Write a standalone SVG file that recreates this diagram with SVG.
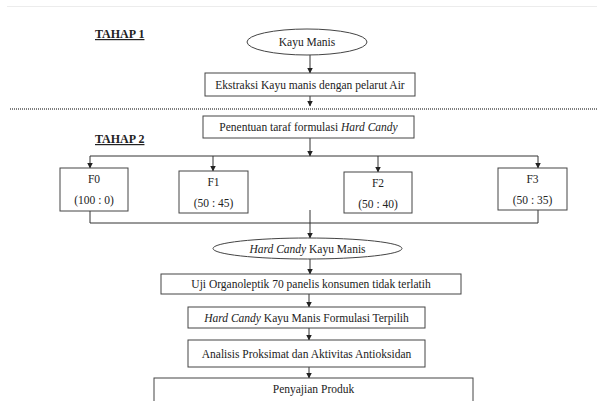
<svg xmlns="http://www.w3.org/2000/svg" width="597" height="401" viewBox="0 0 597 401">
<style>
text{font-family:"Liberation Serif","Times New Roman",serif;font-size:11.5px;fill:#222;text-anchor:middle}
.h{font-weight:bold;font-size:12px;text-anchor:start;text-decoration:underline}
.i{font-style:italic}
.b{fill:#fff;stroke:#444;stroke-width:1}
.c{fill:none;stroke:#333;stroke-width:1}
</style>
<defs>
<marker id="ah" markerWidth="6" markerHeight="6" refX="5.5" refY="3" orient="auto" markerUnits="userSpaceOnUse">
<path d="M0,0 L6,3 L0,6 Z" fill="#222"/>
</marker>
</defs>
<rect width="597" height="401" fill="#fff"/>
<line x1="7" y1="6.5" x2="597" y2="6.5" stroke="#ececec" stroke-width="1"/>
<line x1="10" y1="109" x2="597" y2="109" stroke="#555" stroke-width="1.3" stroke-dasharray="1,1"/>
<text class="h" x="95" y="38">TAHAP 1</text>
<text class="h" x="95" y="143">TAHAP 2</text>

<g id="connectors">
<line class="c" x1="310" y1="55" x2="310" y2="73" marker-end="url(#ah)"/>
<line class="c" x1="310" y1="96" x2="310" y2="106" marker-end="url(#ah)"/>
<line class="c" x1="310" y1="138" x2="310" y2="156" marker-end="url(#ah)"/>
<line class="c" x1="90" y1="156" x2="538" y2="156"/>
<line class="c" x1="90" y1="156" x2="90" y2="168" marker-end="url(#ah)"/>
<line class="c" x1="213" y1="156" x2="213" y2="171" marker-end="url(#ah)"/>
<line class="c" x1="378" y1="156" x2="378" y2="172" marker-end="url(#ah)"/>
<line class="c" x1="538" y1="156" x2="538" y2="168" marker-end="url(#ah)"/>
<polyline class="c" points="90,211 90,223 538,223 538,210"/>
<line class="c" x1="310" y1="210" x2="310" y2="238" marker-end="url(#ah)"/>
<line class="c" x1="310" y1="259" x2="310" y2="274" marker-end="url(#ah)"/>
<line class="c" x1="309" y1="294" x2="309" y2="307" marker-end="url(#ah)"/>
<line class="c" x1="309" y1="328" x2="309" y2="340" marker-end="url(#ah)"/>
<line class="c" x1="309" y1="367" x2="309" y2="378" marker-end="url(#ah)"/>
</g>

<g id="kayu-manis">
<ellipse class="b" cx="307" cy="42" rx="60" ry="13"/>
<text x="307" y="46">Kayu Manis</text>
</g>
<g id="ekstraksi">
<rect class="b" x="205" y="73" width="210" height="23"/>
<text x="310" y="88.5">Ekstraksi Kayu manis dengan pelarut Air</text>
</g>
<g id="penentuan">
<rect class="b" x="203" y="116" width="211" height="22"/>
<text x="308.5" y="131">Penentuan taraf formulasi <tspan class="i">Hard Candy</tspan></text>
</g>
<g id="f0">
<rect class="b" x="60" y="168" width="68" height="43"/>
<text x="94" y="183">F0</text>
<text x="94" y="204">(100 : 0)</text>
</g>
<g id="f1">
<rect class="b" x="179" y="171" width="69" height="42"/>
<text x="213.5" y="186">F1</text>
<text x="213.5" y="207">(50 : 45)</text>
</g>
<g id="f2">
<rect class="b" x="344" y="172" width="68" height="41"/>
<text x="378" y="187">F2</text>
<text x="378" y="208">(50 : 40)</text>
</g>
<g id="f3">
<rect class="b" x="498" y="168" width="69" height="42"/>
<text x="532.5" y="183">F3</text>
<text x="532.5" y="204">(50 : 35)</text>
</g>
<g id="hard-candy">
<ellipse class="b" cx="307.5" cy="248.5" rx="94.5" ry="10.5"/>
<text x="307.5" y="252.5"><tspan class="i">Hard Candy</tspan> Kayu Manis</text>
</g>
<g id="uji">
<rect class="b" x="161" y="274" width="300" height="20"/>
<text x="311" y="288">Uji Organoleptik 70 panelis konsumen tidak terlatih</text>
</g>
<g id="terpilih">
<rect class="b" x="188" y="307" width="237" height="21"/>
<text x="306.5" y="321.5"><tspan class="i">Hard Candy</tspan> Kayu Manis Formulasi Terpilih</text>
</g>
<g id="analisis">
<rect class="b" x="188" y="340" width="237" height="27"/>
<text x="306.5" y="357.5">Analisis Proksimat dan Aktivitas Antioksidan</text>
</g>
<g id="penyajian">
<rect class="b" x="154" y="378" width="319" height="30"/>
<text x="313.5" y="393">Penyajian Produk</text>
</g>
</svg>
